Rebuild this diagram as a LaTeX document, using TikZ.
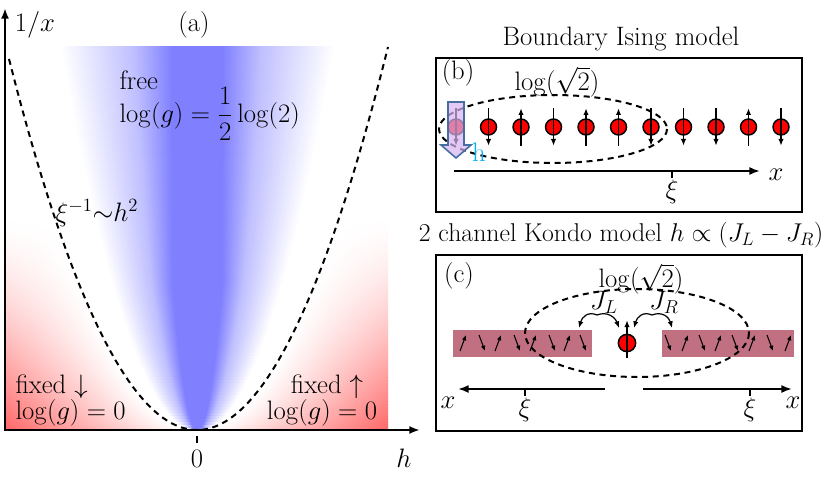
\RequirePackage{fix-cm}
\documentclass[tikz,border=0pt]{standalone}
\usepackage{amsmath}
\usetikzlibrary{arrows.meta}

\definecolor{barcol}{RGB}{192,112,128}
\definecolor{hfill}{RGB}{215,180,240}
\definecolor{hdraw}{RGB}{70,110,160}
\definecolor{hlabel}{RGB}{0,176,240}

\begin{document}
\begin{tikzpicture}[x=0.75pt, y=-0.75pt, >={Latex[length=8pt,width=6pt]},
    font=\fontsize{20}{24}\selectfont,
    every node/.style={inner sep=1pt},
    axisline/.style={line width=1.8pt},
    boxline/.style={line width=1.5pt},
    dashline/.style={line width=1.5pt, dash pattern=on 4.5pt off 3.5pt},
    spin/.style={circle, draw, fill=red, line width=1.1pt, minimum size=12pt, inner sep=0pt},
    spinarrow/.style={line width=0.9pt, -{Latex[length=5pt,width=4pt]}},
    tinyarrow/.style={line width=0.8pt, -{Latex[length=4pt,width=3.5pt]}},
    xaxis/.style={line width=1.3pt, ->}]
    \useasboundingbox (0,0) rectangle (830,477);

    % (a) phase diagram: one shaded strip per row
    \begin{scope}
        \clip (5,47) rectangle (388,430);
        \foreach \yy in {47,50,...,428} {
            \pgfmathsetmacro{\ww}{7*sqrt(430-\yy)}
            \pgfmathsetmacro{\cc}{min(25,2.05*sqrt(430-\yy))}
            \pgfmathsetmacro{\mm}{\cc+0.35*(\ww-\cc)}
            \pgfmathsetmacro{\pp}{9.76*sqrt(430-\yy)}
            \pgfmathsetmacro{\rr}{60*(max(\yy-215,0.01)/215)^1.5}
            \pgfmathsetmacro{\pa}{25+max(0.3,(197-\pp-5))/7.66}
            \pgfmathsetmacro{\pb}{max(\pa+0.05,25+(197-\ww-5)/7.66)}
            \pgfmathsetmacro{\pc}{25+(197-\mm-5)/7.66}
            \pgfmathsetmacro{\pd}{25+(197-\cc-5)/7.66}
            \pgfmathsetmacro{\pe}{25+(197+\cc-5)/7.66}
            \pgfmathsetmacro{\pf}{25+(197+\mm-5)/7.66}
            \pgfmathsetmacro{\pg}{25+(197+\ww-5)/7.66}
            \pgfmathsetmacro{\ph}{max(\pg+0.05,25+min(382.7,(197+\pp-5))/7.66)}
            \colorlet{edge\yy}{red!\rr}
            \edef\stripdef{\noexpand\pgfdeclarehorizontalshading{strip\yy}{100bp}{%
                color(0bp)=(edge\yy); color(25bp)=(edge\yy); color(\pa bp)=(white); color(\pb bp)=(white);
                color(\pc bp)=(blue!25); color(\pd bp)=(blue!50); color(\pe bp)=(blue!50);
                color(\pf bp)=(blue!25); color(\pg bp)=(white); color(\ph bp)=(white);
                color(75bp)=(edge\yy); color(100bp)=(edge\yy)}}
            \stripdef
            \shade[shading=strip\yy] (5,\yy) rectangle (388,{\yy+3.6});
        }
    \end{scope}
    \draw[dashline] plot[domain=-188:191, samples=80] ({197+\x}, {430-383*(\x/191)*(\x/191)});
    \coordinate (ytop) at (5,8);
    \coordinate (orig) at (5,430);
    \coordinate (xend) at (420,430);
    \draw[axisline,<->] (ytop) -- (orig) -- (xend);
    \draw[line width=1pt] (197,436) -- (197,443);
    \node (lab0) at (197,459) {$0$};
    \node (labh) at (404,458) {$h$};
    \node (laby) at (35,25) {$1/x$};
    \node (laba) at (194,25) {(a)};
    \node[anchor=west] (free) at (118,80) {free};
    \node[anchor=west] (gfree) at (118,114) {$\log(g)=\dfrac{1}{2}\log(2)$};
    \node (xilab) at (97,213) {$\xi^{-1}{\sim}h^2$};
    \node[anchor=west] (fixl) at (14,387) {fixed $\downarrow$};
    \node[anchor=west] (gl) at (14,413) {$\log(g)=0$};
    \node (fixr) at (327,387) {fixed $\uparrow$};
    \node (gr) at (322,413) {$\log(g)=0$};

    % (b) boundary Ising model
    \node[inner sep=0pt] (titleb) at (621,39) {Boundary Ising model};
    \draw[boxline] (436,58) rectangle (802,212);
    \node (labb) at (458,73) {(b)};
    \node (logb) at (557,82) {$\log(\sqrt{2})$};
    \draw[dashline] (553,129) ellipse [x radius=114, y radius=34];
    \foreach \d [count=\i from 0] in {-1,-1,1,-1,1,1,-1,-1,-1,1,-1} {
        \node[spin] (s\i) at ({456+32.5*\i},127) {};
        \draw[spinarrow] ([yshift=\d*-14pt]s\i.center) -- ([yshift=\d*14pt]s\i.center);
    }
    \filldraw[draw=hdraw, fill=hfill, fill opacity=0.7, line width=1.2pt]
        (448,102) -- (464,102) -- (464,145) -- (471,145) -- (456,158) -- (441,145) -- (448,145) -- cycle;
    \node[text=hlabel] (hlab) at (479,152) {h};
    \coordinate (xb0) at (454,171);
    \coordinate (xb1) at (760,171);
    \draw[xaxis] (xb0) -- (xb1);
    \node (xlabb) at (776,175) {$x$};
    \draw[line width=1pt] (672,171) -- (672,178);
    \node (xib) at (672,192) {$\xi$};

    % (c) two channel Kondo model
    \node[inner sep=0pt, font=\fontsize{19.3}{23}\selectfont] (titlec) at (621,235) {2 channel Kondo model $h\propto(J_L-J_R)$};
    \draw[boxline] (436,255) rectangle (802,431);
    \node (labc) at (459,276) {(c)};
    \node (logc) at (641,279) {$\log(\sqrt{2})$};
    \fill[barcol] (453,330) rectangle (592,357);
    \fill[barcol] (662,330) rectangle (794,357);
    \foreach \xx/\d in {463/1,482/-1,498/1,517/-1,533/1,552/-1,567/1,583/-1,
                        668/-1,685/1,702/-1,718/1,735/-1,752/1,770/-1,788/1}
        \draw[tinyarrow] (\xx-3,{343+8*\d}) -- (\xx+3,{343-8*\d});
    \draw[dashline] (637,333) ellipse [x radius=112, y radius=44];
    \node[spin, minimum size=13pt] (sc) at (627,343) {};
    \draw[spinarrow] ([yshift=-11pt]sc.center) -- ([yshift=17pt]sc.center);
    \coordinate (jl) at (597,315);
    \coordinate (jlL) at (579,328);
    \coordinate (jlR) at (619,328);
    \coordinate (jr) at (652,315);
    \coordinate (jrL) at (634,328);
    \coordinate (jrR) at (672,328);
    \draw[spinarrow] (jl) .. controls (588,311) and (582,317) .. (jlL);
    \draw[spinarrow] (jl) .. controls (607,311) and (615,317) .. (jlR);
    \draw[spinarrow] (jr) .. controls (643,311) and (637,317) .. (jrL);
    \draw[spinarrow] (jr) .. controls (662,311) and (669,317) .. (jrR);
    \node (jlab) at (604,302) {$J_L$};
    \node (jrab) at (664,302) {$J_R$};
    \coordinate (xl0) at (605,389);
    \coordinate (xl1) at (458,389);
    \coordinate (xr0) at (643,389);
    \coordinate (xr1) at (792,389);
    \draw[xaxis] (xl0) -- (xl1);
    \draw[xaxis] (xr0) -- (xr1);
    \node (xlabl) at (448,403) {$x$};
    \node (xlabr) at (793,403) {$x$};
    \draw[line width=1pt] (525,389) -- (525,396);
    \draw[line width=1pt] (750,389) -- (750,396);
    \node (xil) at (525,410) {$\xi$};
    \node (xir) at (750,410) {$\xi$};
\end{tikzpicture}
\end{document}
